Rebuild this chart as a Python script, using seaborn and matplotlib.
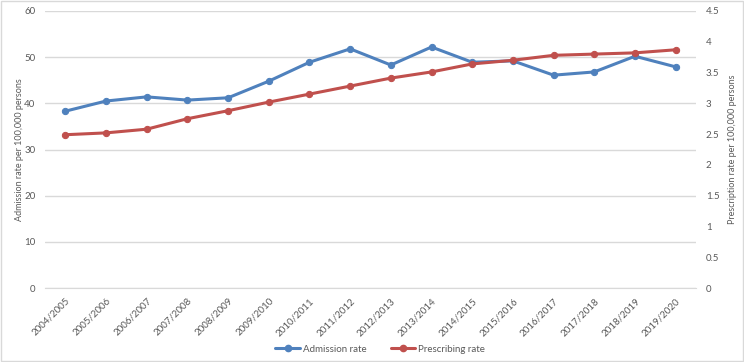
import matplotlib
matplotlib.use("Agg")
import matplotlib.pyplot as plt
import numpy as np
import pandas as pd
import seaborn as sns
from matplotlib.lines import Line2D

#%% Data
years = ['2004/2005', '2005/2006', '2006/2007', '2007/2008', '2008/2009',
         '2009/2010', '2010/2011', '2011/2012', '2012/2013', '2013/2014',
         '2014/2015', '2015/2016', '2016/2017', '2017/2018', '2018/2019',
         '2019/2020']
admission_rate = [38.3, 40.5, 41.4, 40.7, 41.2, 44.8, 48.9, 51.8, 48.3, 52.2,
                  48.9, 49.2, 46.1, 46.8, 50.2, 47.9]
prescribing_rate = [2.49, 2.52, 2.58, 2.75, 2.88, 3.02, 3.15, 3.28, 3.41, 3.51,
                    3.64, 3.70, 3.78, 3.80, 3.82, 3.87]

data = pd.DataFrame({'year': years,
                     'admission': admission_rate,
                     'prescribing': prescribing_rate})
data['pos'] = np.arange(len(years))

#%% Figure
sns.set_style("white")
plt.rcParams['font.family'] = ['Lato', 'DejaVu Sans']

blue = '#4F81BD'
red = '#C0504D'
grey = '#595959'

fig = plt.figure(figsize=(7.44, 3.62), dpi=100)
ax = fig.add_axes([45 / 744, 1 - 288 / 362, 651 / 744, 277 / 362])
ax2 = ax.twinx()

sns.lineplot(data=data, x='pos', y='admission', ax=ax, color=blue,
             linewidth=2.2, marker='o', markersize=4.5, markeredgecolor=blue)
sns.lineplot(data=data, x='pos', y='prescribing', ax=ax2, color=red,
             linewidth=2.2, marker='o', markersize=4.5, markeredgecolor=red)

ax.set_xlim(-0.5, len(years) - 0.5)
ax.set_ylim(0, 60)
ax.set_yticks(np.arange(0, 61, 10))
ax2.set_ylim(0, 4.5)
ax2.set_yticks(np.arange(0, 4.51, 0.5))
ax2.set_yticklabels(['0', '0.5', '1', '1.5', '2', '2.5', '3', '3.5', '4', '4.5'])

ax.set_xticks(data['pos'])
ax.set_xticklabels(years, rotation=45, ha='right', rotation_mode='anchor')

ax.grid(axis='y', color='#D9D9D9', linewidth=1)
ax.set_axisbelow(True)
for a in (ax, ax2):
    for s in a.spines.values():
        s.set_visible(False)
    a.tick_params(length=0, labelsize=7, colors=grey)
    a.set_xlabel('')
ax.spines['bottom'].set_visible(True)
ax.spines['bottom'].set_color('#D9D9D9')
ax.tick_params(axis='y', pad=7)
ax.tick_params(axis='x', pad=6)
ax2.tick_params(axis='y', pad=7)

ax.set_ylabel('Admission rate per 100,000 persons', fontsize=6.5, color=grey,
              labelpad=0)
ax2.set_ylabel('Prescription rate per 100,000 persons', fontsize=6.5,
               color=grey, labelpad=6)

handles = [Line2D([0], [0], color=blue, lw=2.2, marker='o', markersize=4.5),
           Line2D([0], [0], color=red, lw=2.2, marker='o', markersize=4.5)]
fig.legend(handles, ['Admission rate', 'Prescribing rate'], loc='center',
           bbox_to_anchor=(380 / 744, 1 - 349 / 362), ncol=2, frameon=False,
           fontsize=7, labelcolor=grey, handlelength=2.5, columnspacing=2.5,
           handletextpad=0.3)

# light frame round the whole chart
fig.patches.append(plt.Rectangle((0.001, 0.002), 0.997, 0.995,
                                 transform=fig.transFigure, fill=False,
                                 edgecolor='#D9D9D9', linewidth=1))

fig.savefig('out.png', dpi=100)
